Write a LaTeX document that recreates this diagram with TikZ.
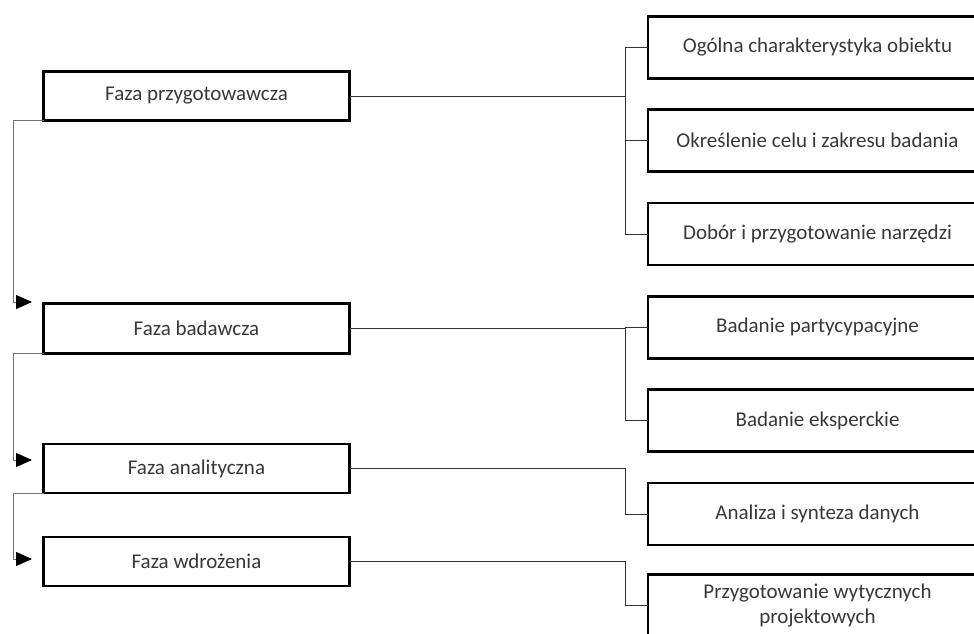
\documentclass[tikz,border=0pt]{standalone}
\usepackage{fontspec}
\setmainfont{Carlito}
\usetikzlibrary{arrows.meta}
\tikzset{
  phase/.style={draw=black, line width=2.6pt, fill=white, inner sep=0pt, outer sep=0pt,
    minimum width=306pt, minimum height=49pt, align=center, text=black!78,
    font=\fontsize{21}{25.5}\selectfont},
  task/.style={phase, minimum width=339pt, minimum height=62pt},
  conn/.style={draw=black!80, line width=1pt},
  flow/.style={draw=black!55, line width=1pt, -{Triangle[length=16pt,width=14pt,black]}}
}
\begin{document}
\begin{tikzpicture}[x=1pt,y=-1pt]
\useasboundingbox (0,0) rectangle (974,634);
\clip (0,0) rectangle (974,634);
% phases
\node[phase] (b1) at (196.5,96) {Faza przygotowawcza};
\node[phase, minimum height=50pt] (b2) at (196.5,328.5) {Faza badawcza};
\node[phase] (b3) at (196.5,468.5) {Faza analityczna};
\node[phase] (b4) at (196.5,561.5) {Faza wdrożenia};
% tasks
\node[task] (r1) at (817.5,47.5) {Ogólna charakterystyka obiektu};
\node[task] (r2) at (817.5,140.5) {Określenie celu i zakresu badania};
\node[task] (r3) at (817.5,234) {Dobór i przygotowanie narzędzi};
\node[task] (r4) at (817.5,327.5) {Badanie partycypacyjne};
\node[task] (r5) at (817.5,420.5) {Badanie eksperckie};
\node[task] (r6) at (817.5,514) {Analiza i synteza danych};
\node[task] (r7) at (817.5,605.5) {Przygotowanie wytycznych\\projektowych};
% junctions
\coordinate (j1) at (625,96);
\coordinate (j2) at (625,328.5);
\coordinate (j3) at (625,468.5);
\coordinate (j4) at (625,561.5);
\draw[conn] (b1.east) -- (j1);
\draw[conn] (j1) |- (r1.west);
\draw[conn] (j1) |- (r2.west);
\draw[conn] (j1) |- (r3.west);
\draw[conn] (b2.east) -- (j2);
\draw[conn] (j2) |- (r4.west);
\draw[conn] (j2) |- (r5.west);
\draw[conn] (b3.east) -- (j3) |- (r6.west);
\draw[conn] (b4.east) -- (j4) |- (r7.west);
% flow arrows
\coordinate (k2) at (13,302);
\coordinate (t2) at (32,302);
\coordinate (k3) at (13,460);
\coordinate (t3) at (32,460);
\coordinate (k4) at (13,559);
\coordinate (t4) at (32,559);
\draw[flow] (b1.south west) -| (k2) -- (t2);
\draw[flow] (b2.south west) -| (k3) -- (t3);
\draw[flow] (b3.south west) -| (k4) -- (t4);
\end{tikzpicture}
\end{document}
